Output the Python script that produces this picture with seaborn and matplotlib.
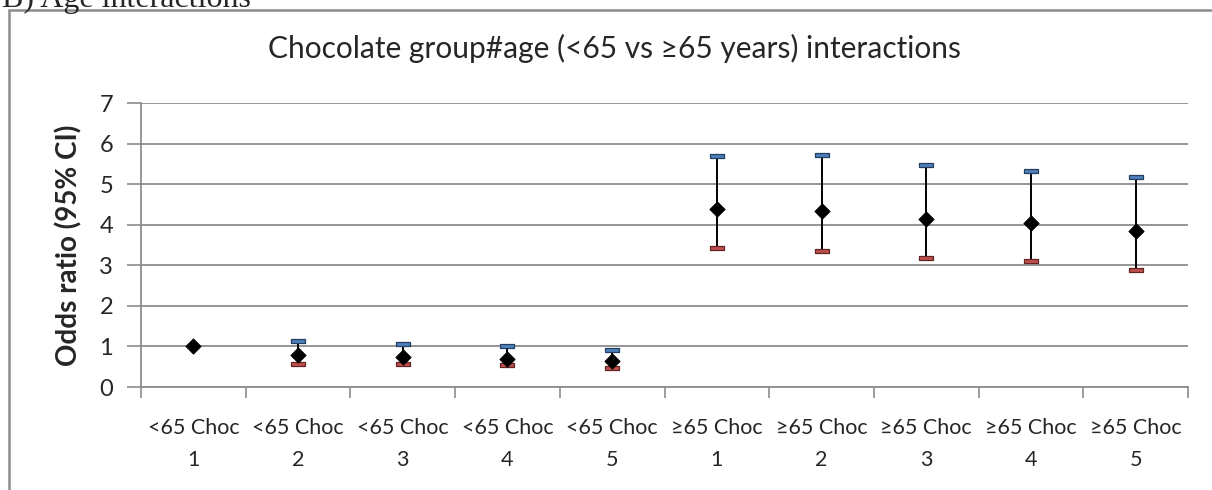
import numpy as np
import pandas as pd
import matplotlib
matplotlib.use('Agg')
import matplotlib.pyplot as plt
import seaborn as sns
from matplotlib.patches import Rectangle
from matplotlib.ticker import FixedLocator, NullFormatter


# values
groups = ['<65 Choc'] * 5 + ['≥65 Choc'] * 5
choc_level = ['1', '2', '3', '4', '5', '1', '2', '3', '4', '5']
odds_ratio = [1.00, 0.79, 0.75, 0.69, 0.64, 4.39, 4.35, 4.15, 4.03, 3.84]
ci_lower = [np.nan, 0.57, 0.56, 0.54, 0.47, 3.43, 3.34, 3.17, 3.10, 2.88]
ci_upper = [np.nan, 1.13, 1.07, 1.00, 0.91, 5.70, 5.73, 5.48, 5.32, 5.18]
y_ticks = [0, 1, 2, 3, 4, 5, 6, 7]

df = pd.DataFrame({
    'label': [f'{g}\n{n}' for g, n in zip(groups, choc_level)],
    'odds': odds_ratio,
    'lower': ci_lower,
    'upper': ci_upper,
})
df['pos'] = np.arange(len(df))
ci = df.dropna()

sns.set_theme(style='white')
plt.rcParams['font.family'] = ['Lato', 'DejaVu Sans']

grid_grey = '#8c8c8c'
blue_fill, blue_edge = '#4f81bd', '#243f60'
red_fill, red_edge = '#c0504d', '#632523'

fig = plt.figure(figsize=(12.12, 4.9), dpi=100)
W, H = 1212, 490
ax = fig.add_axes([141 / W, 1 - 387 / H, (1188 - 141) / W, (387 - 103) / H])

# whiskers
ax.vlines(ci['pos'], ci['lower'], ci['upper'], color='black', lw=1.4, zorder=3)

# flat caps, drawn as small wide rectangles
cap = [(-1, -0.27), (1, -0.27), (1, 0.27), (-1, 0.27), (-1, -0.27)]
sns.scatterplot(data=ci, x='pos', y='upper', marker=cap, s=110, color=blue_fill,
                edgecolor=blue_edge, linewidth=0.9, zorder=4, ax=ax, legend=False)
sns.scatterplot(data=ci, x='pos', y='lower', marker=cap, s=110, color=red_fill,
                edgecolor=red_edge, linewidth=0.9, zorder=4, ax=ax, legend=False)

# point estimates
sns.scatterplot(data=df, x='pos', y='odds', marker='D', s=62, color='black',
                edgecolor='black', linewidth=0.5, zorder=5, ax=ax, legend=False)

ax.set_xlim(-0.5, len(df) - 0.5)
ax.set_ylim(0, 7)
ax.set_yticks(y_ticks)
ax.yaxis.grid(True, color=grid_grey, lw=1.3)
ax.set_axisbelow(True)

# category boundaries get the tick marks, labels sit in between
ax.xaxis.set_major_locator(FixedLocator(np.arange(-0.5, len(df), 1.0)))
ax.xaxis.set_major_formatter(NullFormatter())
ax.xaxis.set_minor_locator(FixedLocator(df['pos']))
ax.set_xticklabels(df['label'], minor=True, fontsize=15.5, linespacing=1.75)
ax.tick_params(axis='x', which='major', length=8, width=1.2, color=grid_grey, direction='out')
ax.tick_params(axis='x', which='minor', length=0, pad=22)
ax.tick_params(axis='y', length=10, width=1.2, color=grid_grey, direction='out',
               labelsize=17, pad=10)
ax.tick_params(bottom=True, left=True)

for side in ['top', 'right']:
    ax.spines[side].set_visible(False)
for side in ['left', 'bottom']:
    ax.spines[side].set_color(grid_grey)
    ax.spines[side].set_linewidth(1.3)

ax.set_xlabel('')
ax.set_ylabel('Odds ratio (95% CI)', fontsize=20, fontweight='bold', labelpad=12)

fig.text(614 / W, 1 - 48 / H, 'Chocolate group#age (<65 vs ≥65 years) interactions',
         ha='center', va='center', fontsize=21.5)

# frame around the chart and the clipped panel caption above it
fig.add_artist(Rectangle((9 / W, -0.2), 2, 1.2 - 10.5 / H, transform=fig.transFigure,
                         fill=False, ec=grid_grey, lw=1.8))
fig.text(2 / W, 1 - 7 / H, 'B) Age interactions', ha='left', va='baseline',
         fontsize=23, family=['Liberation Serif', 'DejaVu Serif'])

fig.savefig('out.png', dpi=100)
